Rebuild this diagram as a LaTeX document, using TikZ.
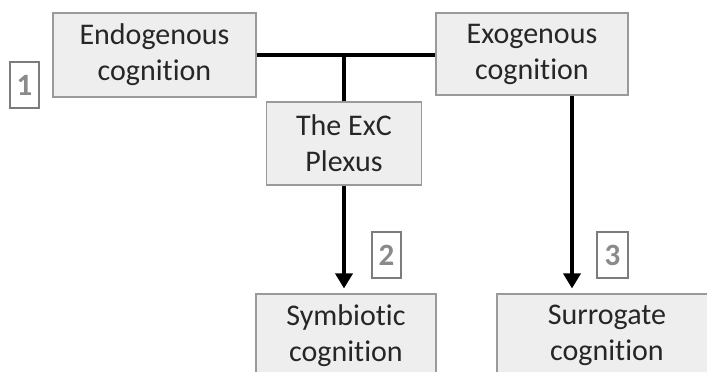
\documentclass[tikz,border=0pt]{standalone}
\usepackage{fontspec}
\setmainfont{Carlito}[Ligatures=NoCommon]
\usetikzlibrary{arrows.meta}
\definecolor{boxfill}{HTML}{EEEEEE}
\definecolor{boxline}{HTML}{9A9A9A}
\definecolor{txt}{HTML}{262626}
\definecolor{numcol}{HTML}{8A8A8A}
\tikzset{
  box/.style={draw=boxline, line width=1.1pt, fill=boxfill, text=txt, align=center,
    inner sep=0pt, font=\fontsize{30}{36}\selectfont},
  numbox/.style={draw=numcol!90!black, line width=1.1pt, fill=white, text=numcol,
    inner sep=0pt, minimum width=29pt, minimum height=46pt,
    font=\fontsize{31}{34}\selectfont\bfseries},
  link/.style={line width=3.6pt, black},
  arr/.style={link, -{Triangle[width=17pt,length=15pt]}, shorten >=5pt}
}
\begin{document}
\begin{tikzpicture}[x=1pt,y=-1pt]
\useasboundingbox (0,0) rectangle (707,372);
\node[box, minimum width=203pt, minimum height=84pt] (endo) at (154.5,55) {Endogenous\\cognition};
\node[box, minimum width=192pt, minimum height=82pt] (exo) at (532,54) {Exogenous\\cognition};
\node[box, minimum width=155pt, minimum height=83pt] (plexus) at (344,143.5) {The ExC\\Plexus};
\node[box, minimum width=180pt, minimum height=83pt] (sym) at (346,335.5) {Symbiotic\\cognition};
\node[box, minimum width=220pt, minimum height=83pt] (sur) at (607,335.5) {Surrogate\\cognition};
\node[numbox] (n1) at (24.5,85) {1};
\node[numbox] (n2) at (386.5,255) {2};
\node[numbox, minimum width=31pt] (n3) at (612.5,255) {3};
\draw[link] (endo.east) -- (endo.east -| exo.west);
\draw[link] (plexus.north) -- (plexus.north |- endo.east);
\draw[arr] (plexus.south) -- (plexus.south |- sym.north);
\coordinate (ea) at ([xshift=40pt]exo.south);
\draw[arr] (ea) -- (ea |- sur.north);
\end{tikzpicture}
\end{document}
